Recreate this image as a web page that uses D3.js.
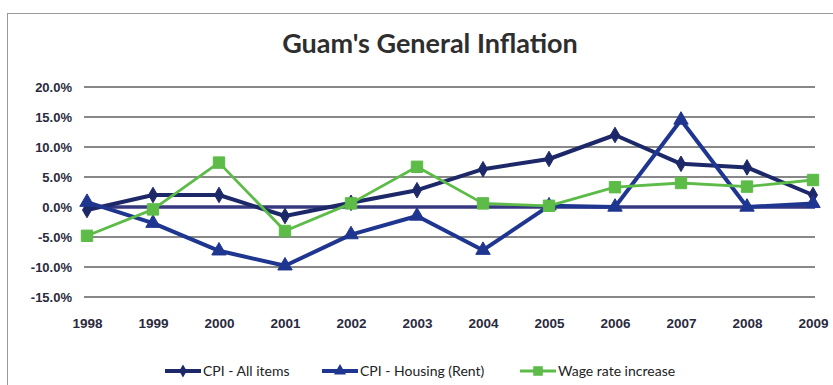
<!DOCTYPE html>
<html>
<head>
<meta charset="utf-8">
<script src="https://cdn.jsdelivr.net/npm/d3@7"></script>
<style>
    body { margin: 0; background: #fff; }
    svg { display: block; font-family: Lato, 'Open Sans', sans-serif; }
    .yAxis text, .xAxis text { font-weight: bold; fill: #2a2a3e; }
</style>
</head>
<body>
<svg id="chart" width="833" height="385"></svg>
<script>
const years = ['1998', '1999', '2000', '2001', '2002', '2003', '2004', '2005', '2006', '2007', '2008', '2009'];
const cpiAll = [-0.5, 2.0, 2.0, -1.5, 0.7, 2.8, 6.3, 8.0, 12.0, 7.2, 6.6, 2.0];
const cpiHousing = [0.8, -2.7, -7.3, -9.8, -4.6, -1.5, -7.2, 0.2, 0.0, 14.5, 0.0, 0.6];
const wageRate = [-4.8, -0.4, 7.4, -4.0, 0.6, 6.7, 0.6, 0.2, 3.3, 4.0, 3.4, 4.5];
const yTicks = [20, 15, 10, 5, 0, -5, -10, -15];
const seriesNames = ['CPI - All items', 'CPI - Housing (Rent)', 'Wage rate increase'];

const series = [
    { name: seriesNames[0], values: cpiAll, color: '#1d2869', symbol: d3.symbolDiamond, size: 70 },
    { name: seriesNames[1], values: cpiHousing, color: '#1f3690', symbol: d3.symbolTriangle, size: 90 },
    { name: seriesNames[2], values: wageRate, color: '#5dbb47', symbol: d3.symbolSquare, size: 130 }
];

const svg = d3.select('#chart');

// outer frame
svg.append('rect')
    .attr('x', 7.5).attr('y', 13.5)
    .attr('width', 840).attr('height', 400)
    .attr('fill', 'none')
    .attr('stroke', '#9a9a9a');

svg.append('text')
    .attr('x', 430).attr('y', 53)
    .attr('text-anchor', 'middle')
    .style('font-size', '27px')
    .style('font-weight', 'bold')
    .style('fill', '#2e2e2e')
    .text("Guam's General Inflation");

const xScale = d3.scalePoint()
    .domain(years)
    .range([87, 813]);

const yScale = d3.scaleLinear()
    .domain([-15, 20])
    .range([297, 87]);

// gridlines
svg.append('g')
    .selectAll('line')
    .data(yTicks)
    .join('line')
    .attr('x1', 84).attr('x2', 815)
    .attr('y1', d => yScale(d)).attr('y2', d => yScale(d))
    .attr('stroke', d => d === 0 ? '#2c2f78' : '#3a3a3a')
    .attr('stroke-width', d => d === 0 ? 3.5 : 1.6)
    .attr('opacity', d => d === 0 ? 0.95 : 0.8);

const yAxis = d3.axisLeft(yScale)
    .tickValues(yTicks)
    .tickFormat(d => d.toFixed(1) + '%')
    .tickSize(0)
    .tickPadding(0);

svg.append('g')
    .attr('class', 'yAxis')
    .attr('transform', 'translate(72,0)')
    .call(yAxis)
    .call(g => g.select('.domain').remove())
    .selectAll('text')
    .style('font-size', '13px');

const xAxis = d3.axisBottom(xScale)
    .tickSize(0)
    .tickPadding(0);

svg.append('g')
    .attr('class', 'xAxis')
    .attr('transform', 'translate(0,318)')
    .call(xAxis)
    .call(g => g.select('.domain').remove())
    .selectAll('text')
    .style('font-size', '13.5px');

const line = d3.line()
    .x((d, i) => xScale(years[i]))
    .y(d => yScale(d));

const groups = svg.append('g')
    .selectAll('g')
    .data(series)
    .join('g');

groups.append('path')
    .attr('d', d => line(d.values))
    .attr('fill', 'none')
    .attr('stroke', d => d.color)
    .attr('stroke-width', d => d.symbol === d3.symbolSquare ? 2.8 : 4)
    .attr('stroke-linejoin', 'round');

groups.each(function (s) {
    d3.select(this).selectAll('path.mark')
        .data(s.values)
        .join('path')
        .attr('class', 'mark')
        .attr('transform', (d, i) => `translate(${xScale(years[i])},${yScale(d)})`)
        .attr('d', d3.symbol().type(s.symbol).size(s.size))
        .attr('fill', s.color)
        .attr('stroke', s.color)
        .attr('stroke-width', 1);
});

// legend
const legendX = [165, 322, 520];
const legend = svg.append('g')
    .selectAll('g')
    .data(series)
    .join('g')
    .attr('transform', (d, i) => `translate(${legendX[i]},371)`);

legend.append('line')
    .attr('x1', 0).attr('x2', 36)
    .attr('stroke', d => d.color)
    .attr('stroke-width', d => d.symbol === d3.symbolSquare ? 2.8 : 4);

legend.append('path')
    .attr('transform', 'translate(18,0)')
    .attr('d', d => d3.symbol().type(d.symbol).size(d.size * 0.7)())
    .attr('fill', d => d.color);

legend.append('text')
    .attr('x', 38).attr('y', 5)
    .style('font-size', '14px')
    .style('fill', '#222')
    .text(d => d.name);
</script>
</body>
</html>
